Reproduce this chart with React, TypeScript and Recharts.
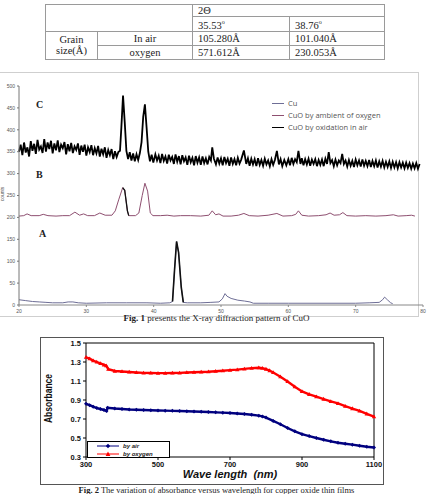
import React from "react";
import { LineChart, Line, XAxis, YAxis, ReferenceLine } from "recharts";

// Fig. 1 - XRD (2 theta, counts)
const twoThetaTicks = [20, 30, 40, 50, 60, 70, 80];
const countTicks = [0, 50, 100, 150, 200, 250, 300, 350, 400, 450, 500];

// A: Cu
const cuCounts: [number, number][] = [
  [20, 12], [21, 10], [22, 8], [23, 7], [24, 6], [25, 5], [26.5, 5], [27.3, 7], [28, 7],
  [28.8, 5], [30, 4], [33, 5], [36, 5], [39, 5], [41, 4], [42.4, 5], [42.8, 8], [43.1, 80],
  [43.4, 145], [43.7, 120], [44.1, 40], [44.4, 6], [45, 5], [47, 5], [48.5, 6], [49.7, 7],
  [50.2, 14], [50.6, 26], [50.9, 20], [51.5, 15], [52.5, 11], [53.5, 9], [54.3, 7], [54.8, 4],
  [57, 4], [60, 4], [65, 4], [70, 4], [72, 5], [73.5, 6], [74.0, 12], [74.3, 18], [74.7, 12],
  [75.2, 5], [75.5, 3],
];

// B: CuO by ambient of oxygen
const oxygenCounts: [number, number][] = [
  [20, 203], [20.7, 204], [21.2, 208], [21.8, 204], [23, 204], [23.6, 207], [24.3, 204],
  [25.5, 203], [26.5, 204], [27.5, 204], [28.3, 212], [29, 205], [29.6, 208], [30.2, 204],
  [31.2, 204], [32, 210], [32.8, 205], [33.8, 205], [34.3, 215], [34.8, 240], [35.4, 268],
  [35.7, 262], [36.1, 215], [36.3, 204], [37.3, 204], [37.8, 210], [38.3, 250], [38.7, 278],
  [39.1, 260], [39.5, 210], [39.9, 204], [41, 204], [42, 205], [43, 203], [44, 204],
  [45.5, 204], [47, 203], [48.2, 205], [48.7, 215], [49.2, 206], [49.7, 208], [50.3, 203],
  [51.5, 203], [52.6, 205], [53.4, 209], [54.2, 204], [55.5, 203], [57, 205], [58.3, 209],
  [59.2, 203], [60.5, 204], [61.1, 207], [61.5, 215], [62, 205], [63, 203], [64.5, 204],
  [65.6, 206], [66.2, 210], [66.8, 205], [67.6, 206], [68.1, 211], [68.7, 204], [70, 203],
  [71.5, 204], [73, 203], [74.5, 204], [75.6, 206], [76.3, 203], [77.5, 204], [78.3, 205],
  [78.8, 203],
];

// C: CuO by oxidation in air (noisy trace)
const airCounts: [number, number][] = [
  [20, 350], [20.25, 366], [20.5, 342], [20.75, 371], [21, 348], [21.25, 360], [21.5, 339],
  [21.75, 374], [22, 352], [22.25, 368], [22.5, 345], [22.75, 377], [23, 355], [23.25, 362],
  [23.5, 347], [23.75, 379], [24, 350], [24.25, 371], [24.5, 356], [24.75, 375], [25, 346],
  [25.25, 369], [25.5, 353], [25.75, 376], [26, 349], [26.25, 366], [26.5, 358], [26.75, 372],
  [27, 344], [27.25, 367], [27.5, 351], [27.75, 370], [28, 347], [28.25, 362], [28.5, 354],
  [28.75, 369], [29, 343], [29.25, 364], [29.5, 350], [29.75, 366], [30, 341], [30.25, 360],
  [30.5, 349], [30.75, 365], [31, 342], [31.25, 358], [31.5, 346], [31.75, 363], [32, 339],
  [32.25, 357], [32.5, 344], [32.75, 360], [33, 336], [33.25, 354], [33.5, 342], [33.75, 356],
  [34, 333], [34.25, 351], [34.5, 338], [34.75, 349], [35, 352], [35.2, 405], [35.45, 478],
  [35.7, 418], [35.95, 352], [36.2, 333], [36.45, 349], [36.7, 330], [36.95, 346], [37.2, 328],
  [37.45, 344], [37.7, 331], [37.95, 347], [38.2, 372], [38.45, 430], [38.7, 458], [38.95, 405],
  [39.2, 350], [39.45, 328], [39.7, 343], [39.95, 325], [40.25, 344], [40.5, 330], [40.75, 341],
  [41, 324], [41.25, 345], [41.5, 329], [41.75, 339], [42, 323], [42.25, 343], [42.5, 330],
  [42.75, 338], [43, 322], [43.25, 344], [43.5, 327], [43.75, 340], [44, 321], [44.25, 342],
  [44.5, 328], [44.75, 337], [45, 320], [45.25, 341], [45.5, 326], [45.75, 336], [46, 319],
  [46.25, 340], [46.5, 325], [46.75, 337], [47, 320], [47.25, 339], [47.5, 324], [47.75, 335],
  [48, 321], [48.25, 338], [48.5, 330], [48.7, 360], [48.95, 334], [49.25, 321], [49.5, 337],
  [49.75, 323], [50, 335], [50.25, 319], [50.5, 338], [50.75, 324], [51, 334], [51.25, 318],
  [51.5, 337], [51.75, 322], [52, 333], [52.25, 319], [52.5, 336], [52.75, 323], [53, 332],
  [53.4, 353], [53.75, 322], [54, 335], [54.25, 318], [54.5, 334], [54.75, 321], [55, 333],
  [55.25, 317], [55.5, 335], [55.75, 320], [56, 331], [56.25, 318], [56.5, 334], [56.75, 321],
  [57, 330], [57.25, 317], [57.5, 333], [57.75, 320], [58, 331], [58.3, 352], [58.6, 321],
  [58.85, 333], [59.1, 317], [59.4, 331], [59.7, 319], [60, 333], [60.25, 319], [60.5, 336],
  [60.75, 322], [61, 333], [61.25, 326], [61.5, 352], [61.8, 322], [62, 335], [62.25, 319],
  [62.5, 333], [62.75, 321], [63, 334], [63.25, 318], [63.5, 332], [63.75, 322], [64, 333],
  [64.25, 317], [64.5, 331], [64.75, 320], [65, 332], [65.25, 317], [65.5, 334], [65.75, 322],
  [66, 349], [66.25, 324], [66.5, 331], [66.75, 317], [67, 332], [67.25, 319], [67.5, 330],
  [67.75, 324], [68, 345], [68.25, 322], [68.5, 330], [68.75, 316], [69, 331], [69.25, 318],
  [69.5, 329], [69.75, 315], [70, 332], [70.25, 319], [70.5, 330], [70.75, 316], [71, 332],
  [71.25, 318], [71.5, 329], [71.75, 317], [72, 331], [72.25, 315], [72.5, 329], [72.75, 317],
  [73, 330], [73.25, 314], [73.5, 328], [73.75, 316], [74, 329], [74.25, 314], [74.5, 327],
  [74.75, 315], [75, 328], [75.25, 313], [75.5, 327], [75.75, 314], [76, 326], [76.25, 312],
  [76.5, 326], [76.75, 314], [77, 325], [77.25, 312], [77.5, 325], [77.75, 313], [78, 324],
  [78.25, 311], [78.5, 323], [78.75, 312], [79, 324], [79.25, 311], [79.5, 322],
];

// Fig. 2 - absorbance vs wavelength
const wavelengthTicks = [300, 500, 700, 900, 1100];
const absorbanceTicks = [0.3, 0.5, 0.7, 0.9, 1.1, 1.3, 1.5];

const byAir: [number, number][] = [
  [300, 0.86], [310, 0.845], [320, 0.83], [330, 0.815], [340, 0.805], [350, 0.795],
  [357, 0.785], [360, 0.818], [380, 0.81], [400, 0.805], [420, 0.8], [440, 0.797],
  [460, 0.794], [480, 0.792], [500, 0.79], [520, 0.788], [540, 0.786], [560, 0.784],
  [580, 0.782], [600, 0.779], [620, 0.776], [640, 0.773], [660, 0.77], [680, 0.767],
  [700, 0.763], [720, 0.758], [740, 0.752], [760, 0.745], [780, 0.735], [790, 0.727],
  [800, 0.715], [820, 0.68], [840, 0.645], [860, 0.605], [880, 0.57], [900, 0.54],
  [920, 0.52], [940, 0.5], [960, 0.482], [980, 0.465], [1000, 0.45], [1020, 0.44],
  [1040, 0.43], [1060, 0.418], [1080, 0.408], [1100, 0.4],
];

const byOxygen: [number, number][] = [
  [300, 1.35], [310, 1.335], [320, 1.315], [330, 1.3], [340, 1.285], [350, 1.27],
  [356, 1.262], [362, 1.225], [380, 1.205], [400, 1.2], [420, 1.195], [440, 1.19],
  [460, 1.186], [480, 1.184], [500, 1.183], [520, 1.183], [540, 1.184], [560, 1.186],
  [580, 1.19], [600, 1.192], [620, 1.195], [640, 1.198], [660, 1.203], [680, 1.208],
  [700, 1.214], [720, 1.22], [740, 1.228], [760, 1.236], [780, 1.24], [790, 1.236],
  [800, 1.226], [810, 1.21], [820, 1.19], [840, 1.145], [860, 1.095], [880, 1.04],
  [900, 0.99], [920, 0.96], [940, 0.935], [960, 0.91], [980, 0.885], [1000, 0.865],
  [1020, 0.835], [1040, 0.81], [1060, 0.785], [1080, 0.755], [1100, 0.725],
];

const toRows = (pts: [number, number][]) => pts.map(([x, y]) => ({ x, y }));

const serif = "'Liberation Serif', 'Times New Roman', serif";
const sans = "'Liberation Sans', Arial, sans-serif";

const Triangle = (props: any) => {
  const { cx, cy } = props;
  if (cx == null || cy == null) return null;
  return <path d={`M${cx},${cy - 2.2} L${cx + 2.2},${cy + 1.6} L${cx - 2.2},${cy + 1.6} Z`} fill="#ff0000" />;
};

const Diamond = (props: any) => {
  const { cx, cy } = props;
  if (cx == null || cy == null) return null;
  return <path d={`M${cx},${cy - 2} L${cx + 2},${cy} L${cx},${cy + 2} L${cx - 2},${cy} Z`} fill="#00007f" />;
};

function GrainTable() {
  const cell: React.CSSProperties = {
    border: "1px solid #9a9a9a",
    padding: 0,
    fontFamily: serif,
    fontSize: 10.5,
    color: "#222",
    lineHeight: "11px",
  };
  const left: React.CSSProperties = { ...cell, textAlign: "left", paddingLeft: 5 };
  const mid: React.CSSProperties = { ...cell, textAlign: "center" };
  return (
    <table
      style={{
        position: "absolute",
        left: 45,
        top: 4,
        width: 339,
        borderCollapse: "collapse",
        tableLayout: "fixed",
      }}
    >
      <colgroup>
        <col style={{ width: 52 }} />
        <col style={{ width: 95 }} />
        <col style={{ width: 97 }} />
        <col style={{ width: 95 }} />
      </colgroup>
      <tbody>
        <tr style={{ height: 11 }}>
          <td style={mid} colSpan={2} rowSpan={2}></td>
          <td style={left} colSpan={2}>2Θ</td>
        </tr>
        <tr style={{ height: 14 }}>
          <td style={left}>35.53<sup style={{ fontSize: 6 }}>o</sup></td>
          <td style={left}>38.76<sup style={{ fontSize: 6 }}>o</sup></td>
        </tr>
        <tr style={{ height: 14 }}>
          <td style={mid} rowSpan={2}>Grain<br />size(Å)</td>
          <td style={mid}>In air</td>
          <td style={left}>105.280Å</td>
          <td style={left}>101.040Å</td>
        </tr>
        <tr style={{ height: 14 }}>
          <td style={mid}>oxygen</td>
          <td style={left}>571.612Å</td>
          <td style={left}>230.053Å</td>
        </tr>
      </tbody>
    </table>
  );
}

function XrdFigure() {
  const tick = { fontSize: 5, fill: "#555", fontFamily: sans };
  const legendRow = (color: string, label: string, top: number) => (
    <div style={{ position: "absolute", left: 272, top, display: "flex", alignItems: "center" }}>
      <div style={{ width: 12, height: 1, background: color }} />
      <span style={{ marginLeft: 4, fontSize: 7.5, color: "#555", fontFamily: "'Open Sans', sans-serif" }}>
        {label}
      </span>
    </div>
  );
  const letter = (t: string, left: number, top: number) => (
    <div style={{ position: "absolute", left, top, fontFamily: serif, fontWeight: "bold", fontSize: 10, color: "#222" }}>
      {t}
    </div>
  );
  return (
    <>
      <div
        style={{
          position: "absolute",
          left: -1,
          top: 72,
          width: 419,
          height: 243,
          borderTop: "1px solid #cfcfcf",
          borderRight: "1px solid #cfcfcf",
          borderBottom: "1px solid #cfcfcf",
        }}
      />
      <div style={{ position: "absolute", left: 0, top: 70 }}>
        <LineChart width={433} height={250} margin={{ top: 16, right: 10, bottom: 5, left: 5 }}>
          <XAxis
            type="number"
            dataKey="x"
            domain={[20, 80]}
            ticks={twoThetaTicks}
            tick={tick}
            tickSize={2}
            height={10}
            stroke="#888"
            allowDuplicatedCategory={false}
          />
          <YAxis
            type="number"
            dataKey="y"
            domain={[0, 500]}
            ticks={countTicks}
            tick={tick}
            tickSize={2}
            width={14}
            stroke="#777"
          />
          <Line data={toRows(cuCounts)} dataKey="y" stroke="#6e6e96" strokeWidth={1} dot={false} isAnimationActive={false} />
          <Line
            data={toRows(cuCounts.filter((p) => p[0] >= 42.8 && p[0] <= 44.4))}
            dataKey="y"
            stroke="#111"
            strokeWidth={1.6}
            dot={false}
            isAnimationActive={false}
          />
          <Line data={toRows(oxygenCounts)} dataKey="y" stroke="#8e4f70" strokeWidth={1} dot={false} isAnimationActive={false} />
          <Line
            data={toRows(oxygenCounts.filter((p) => p[0] >= 35.4 && p[0] <= 36.3))}
            dataKey="y"
            stroke="#111"
            strokeWidth={1.3}
            dot={false}
            isAnimationActive={false}
          />
          <Line data={toRows(airCounts)} dataKey="y" stroke="#000" strokeWidth={1.8} dot={false} isAnimationActive={false} />
        </LineChart>
      </div>
      {legendRow("#6e6e96", "Cu", 98)}
      {legendRow("#8e4f70", "CuO by ambient of oxygen", 110)}
      {legendRow("#000", "CuO by oxidation in air", 122)}
      {letter("C", 36, 99)}
      {letter("B", 36, 169)}
      {letter("A", 39, 228)}
      <div
        style={{
          position: "absolute",
          left: -5,
          top: 191,
          fontSize: 5,
          color: "#555",
          fontFamily: sans,
          transform: "rotate(-90deg)",
        }}
      >
        counts
      </div>
      <div
        style={{
          position: "absolute",
          left: 0,
          top: 313,
          width: 433,
          textAlign: "center",
          fontFamily: serif,
          fontSize: 9,
          color: "#222",
        }}
      >
        <b>Fig. 1</b> presents the X-ray diffraction pattern of CuO
      </div>
    </>
  );
}

function AbsorbanceFigure() {
  const tick = { fontSize: 7.5, fill: "#111", fontFamily: sans, fontWeight: "bold" as const };
  return (
    <>
      <div
        style={{
          position: "absolute",
          left: 40,
          top: 337,
          width: 342,
          height: 146,
          border: "1px solid #555",
        }}
      />
      <div style={{ position: "absolute", left: 40, top: 337 }}>
        <LineChart width={343} height={147} margin={{ top: 6, right: 9, bottom: 0, left: 16 }}>
          <XAxis
            type="number"
            dataKey="x"
            domain={[300, 1100]}
            ticks={wavelengthTicks}
            tick={tick}
            tickSize={3}
            height={27}
            stroke="#000"
            allowDuplicatedCategory={false}
          />
          <YAxis
            type="number"
            dataKey="y"
            domain={[0.3, 1.5]}
            ticks={absorbanceTicks}
            tick={tick}
            tickSize={3}
            tickFormatter={(v: number) => v.toFixed(1)}
            width={30}
            stroke="#000"
          />
          <ReferenceLine y={1.5} stroke="#000" strokeWidth={1} />
          <ReferenceLine x={1100} stroke="#000" strokeWidth={1} />
          <Line
            data={toRows(byAir)}
            dataKey="y"
            stroke="#00007f"
            strokeWidth={2.4}
            dot={<Diamond />}
            isAnimationActive={false}
          />
          <Line
            data={toRows(byOxygen)}
            dataKey="y"
            stroke="#ff0000"
            strokeWidth={2.4}
            dot={<Triangle />}
            isAnimationActive={false}
          />
        </LineChart>
      </div>
      <div
        style={{
          position: "absolute",
          left: 87,
          top: 441,
          width: 81,
          height: 15,
          border: "1px solid #000",
          background: "#fff",
        }}
      >
        {[
          { label: "by air", color: "#00007f", marker: "d" },
          { label: "by oxygen", color: "#ff0000", marker: "t" },
        ].map((e, i) => (
          <div key={e.label} style={{ position: "absolute", left: 9, top: 0 + i * 8, display: "flex", alignItems: "center", height: 8 }}>
            <svg width={22} height={6}>
              <line x1={0} y1={3} x2={22} y2={3} stroke={e.color} strokeWidth={1} />
              {e.marker === "d" ? (
                <path d="M11,0.8 L13.2,3 L11,5.2 L8.8,3 Z" fill={e.color} />
              ) : (
                <path d="M11,0.6 L13.4,5 L8.6,5 Z" fill={e.color} />
              )}
            </svg>
            <span style={{ marginLeft: 4, fontFamily: sans, fontStyle: "italic", fontWeight: "bold", fontSize: 6, color: "#222" }}>
              {e.label}
            </span>
          </div>
        ))}
      </div>
      <div
        style={{
          position: "absolute",
          left: 130,
          top: 468,
          width: 200,
          textAlign: "center",
          fontFamily: sans,
          fontStyle: "italic",
          fontWeight: "bold",
          fontSize: 11,
          color: "#111",
          whiteSpace: "pre",
        }}
      >
        {"Wave length  (nm)"}
      </div>
      <div
        style={{
          position: "absolute",
          left: 18,
          top: 393,
          width: 60,
          textAlign: "center",
          fontFamily: "'Liberation Sans Narrow', 'Liberation Sans', sans-serif",
          fontWeight: "bold",
          fontSize: 10,
          color: "#111",
          transform: "rotate(-90deg) scaleX(0.85)",
        }}
      >
        Absorbance
      </div>
      <div
        style={{
          position: "absolute",
          left: 0,
          top: 485,
          width: 433,
          textAlign: "center",
          fontFamily: serif,
          fontSize: 8.5,
          color: "#222",
          whiteSpace: "nowrap",
        }}
      >
        <b>Fig. 2</b> The variation of absorbance versus wavelength for copper oxide thin films
      </div>
    </>
  );
}

export default function App() {
  return (
    <div
      style={{
        position: "absolute",
        left: 0,
        top: 0,
        width: 433,
        height: 494,
        background: "#fff",
        overflow: "hidden",
      }}
    >
      <GrainTable />
      <XrdFigure />
      <AbsorbanceFigure />
    </div>
  );
}
